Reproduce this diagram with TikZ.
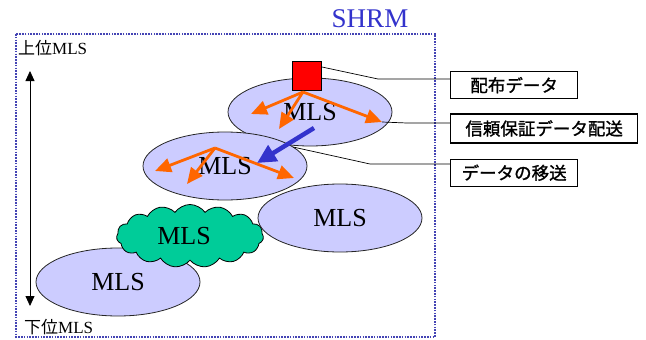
\documentclass[tikz,border=0pt]{standalone}
\usepackage{fontspec}
\setmainfont{Liberation Serif}
\newfontfamily\cjk{Noto Sans CJK JP}
\newfontfamily\cjkb[FakeBold=1.2]{Noto Sans CJK JP}
\usetikzlibrary{arrows.meta,positioning,shapes.geometric,shapes.symbols}
\definecolor{lav}{HTML}{CCCCFF}
\definecolor{mint}{HTML}{00CC99}
\definecolor{flame}{HTML}{FF6600}
\definecolor{ink}{HTML}{3333CC}
\definecolor{rim}{HTML}{4444B4}
\tikzset{mls/.style={ellipse,draw=black!85,fill=lav,line width=0.8pt,inner sep=0pt,
  minimum width=164pt,minimum height=68pt,font=\fontsize{26}{26}\selectfont},
  puff/.style={cloud,cloud puffs=15,cloud puff arc=110,aspect=2.4,draw=black,fill=mint,
  line width=0.8pt,inner sep=0pt,minimum width=147pt,minimum height=63pt,
  font=\fontsize{26}{26}\selectfont},
  spread/.style={-{Triangle[length=16pt,width=14pt]},line width=2.8pt,draw=flame},
  move/.style={-{Triangle[length=19pt,width=18pt]},line width=4.5pt,draw=ink},
  lbl/.style={draw,line width=1.3pt,fill=white,inner sep=0pt,minimum height=27pt,
  font=\cjkb\fontsize{17.5}{17.5}\selectfont},
  callout/.style={line width=0.7pt},
  level/.style={anchor=west,inner sep=0pt,font=\fontsize{17}{17}\selectfont}}

\begin{document}
\begin{tikzpicture}[x=1pt,y=-1pt]
\useasboundingbox (0,0) rectangle (646,340);
\node[text=ink,font=\fontsize{27}{27}\selectfont] (shrm) at (370,19) {SHRM};
\draw[rim,line width=1.5pt,dash pattern=on 1.6pt off 1.2pt] (16,34) rectangle (435,337);
% hierarchy axis
\node[level] (hi) at (18,48) {{\cjk 上位}MLS};
\node[level] (lo) at (24,327) {{\cjk 下位}MLS};
\coordinate (top) at (30,71);
\coordinate (bot) at (30,306);
\draw[{Triangle[length=10pt,width=9pt]}-{Triangle[length=10pt,width=9pt]},line width=0.8pt] (top)--(bot);
% multicast layers
\node[mls] (m4) at (118,282) {MLS};
\node[puff] (m5) at (190,236) {\hspace*{-12pt}MLS};
\node[mls] (m3) at (340,218) {MLS};
\node[mls] (m1) at (310,112) {MLS};
\node[mls] (m2) at (225,166) {MLS};
\node[draw=black,fill=red,line width=0.9pt,minimum size=29pt,inner sep=0pt] (sq) at (307,76) {};
% distribution inside the layers
\coordinate (a0) at (303,92);\coordinate (a1) at (251,114);
\coordinate (a2) at (279,129);\coordinate (a3) at (382,122);
\draw[spread] (a0)--(a1);\draw[spread] (a0)--(a2);\draw[spread] (a0)--(a3);
\coordinate (b0) at (215,148);\coordinate (b1) at (155,171);
\coordinate (b2) at (187,184);\coordinate (b3) at (294,178);
\draw[spread] (b0)--(b1);\draw[spread] (b0)--(b2);\draw[spread] (b0)--(b3);
\coordinate (c0) at (314,128);\coordinate (c1) at (257,163);
\draw[move] (c0)--(c1);
% labels
\node[lbl,minimum width=127pt,anchor=north west] (l1) at (450,71) {配布データ};
\node[lbl,minimum width=187pt,minimum height=29pt,below=14pt of l1.south west,anchor=north west] (l2) {信頼保証データ配送};
\node[lbl,minimum width=127pt,below=15pt of l2.south west,anchor=north west] (l3) {データの移送};
\coordinate (k1) at (378,79);\coordinate (k2) at (407,123);
\coordinate (j3) at (293,147);\coordinate (k3) at (370,164);
\draw[callout] ([yshift=9pt]sq.east)--(k1)--(l1.west|-k1);
\draw[callout] (a3)--(k2)--(l2.west|-k2);
\draw[callout] (j3)--(k3)--(l3.west|-k3);
\end{tikzpicture}
\end{document}
